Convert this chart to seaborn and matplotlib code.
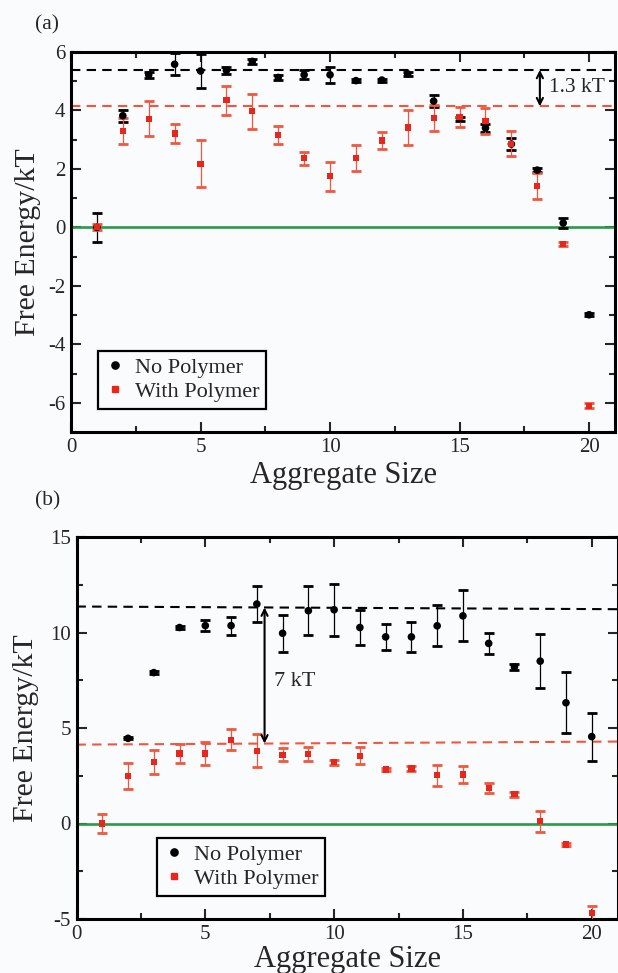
import numpy as np
import pandas as pd
import matplotlib
matplotlib.use("Agg")
import matplotlib.pyplot as plt
import seaborn as sns
from matplotlib.ticker import MultipleLocator
from matplotlib.lines import Line2D

# ---------------- data ----------------
sizes = list(range(1, 21))

# panel (a)
a_no_val = [0.0, 3.82, 5.22, 5.58, 5.35, 5.37, 5.68, 5.13, 5.22, 5.22,
            5.02, 5.04, 5.25, 4.32, 3.72, 3.40, 2.85, 1.96, 0.15, -2.99]
a_no_err = [0.5, 0.2, 0.1, 0.38, 0.57, 0.12, 0.08, 0.1, 0.15, 0.28,
            0.04, 0.05, 0.06, 0.2, 0.07, 0.12, 0.2, 0.06, 0.17, 0.05]
a_with_val = [0.0, 3.29, 3.71, 3.21, 2.18, 4.35, 3.97, 3.16, 2.37, 1.75,
              2.38, 2.97, 3.42, 3.74, 3.78, 3.65, 2.86, 1.41, -0.58, -6.1]
a_with_err = [0.1, 0.45, 0.6, 0.32, 0.8, 0.5, 0.6, 0.31, 0.22, 0.5,
              0.45, 0.3, 0.6, 0.45, 0.34, 0.45, 0.43, 0.45, 0.07, 0.08]

# panel (b)
b_no_sizes = list(range(2, 21))
b_no_val = [4.46, 7.9, 10.26, 10.36, 10.36, 11.49, 9.96, 11.14, 11.19, 10.26,
            9.77, 9.77, 10.35, 10.87, 9.43, 8.2, 8.5, 6.32, 4.55]
b_no_err = [0.06, 0.06, 0.06, 0.27, 0.47, 0.94, 0.97, 1.27, 1.36, 0.94,
            0.68, 0.77, 1.07, 1.33, 0.55, 0.15, 1.43, 1.6, 1.26]
b_with_val = [0.0, 2.49, 3.23, 3.67, 3.67, 4.39, 3.81, 3.6, 3.64, 3.2,
              3.55, 2.83, 2.88, 2.53, 2.56, 1.86, 1.53, 0.12, -1.1, -4.7]
b_with_err = [0.5, 0.66, 0.62, 0.48, 0.59, 0.55, 0.85, 0.33, 0.38, 0.15,
              0.44, 0.08, 0.15, 0.55, 0.44, 0.25, 0.12, 0.55, 0.1, 0.4]

# reference lines (start / end at x = 0 and x = 21)
ref_x = [0, 21]
a_no_ref = [5.39, 5.39]
a_with_ref = [4.14, 4.14]
b_no_ref = [11.36, 11.22]
b_with_ref = [4.13, 4.29]
zero_ref = [0, 0]

# gap annotations
a_gap_x, a_gap_text = 18.1, "1.3 kT"
b_gap_x, b_gap_text = 7.3, "7 kT"

series_names = ["No Polymer", "With Polymer"]
panel_labels = ["(a)", "(b)"]
x_label = "Aggregate Size"
y_label = "Free Energy/kT"

# ---------------- style ----------------
sns.set_style("ticks")
plt.rcParams["font.family"] = ["Liberation Serif", "DejaVu Serif"]
plt.rcParams["axes.unicode_minus"] = False

BG = "#fafbfd"
BLACK = "#000000"
RED = "#e8261c"
RED_LIGHT = "#f0573f"
GREEN = "#2a9a4a"

W, H = 618, 973
fig = plt.figure(figsize=(W / 100, H / 100), dpi=100, facecolor=BG)


def px_axes(l, t, r, b):
    return fig.add_axes([l / W, 1 - b / H, (r - l) / W, (b - t) / H])


def draw_panel(ax, x_no, v_no, e_no, x_w, v_w, e_w, no_ref, with_ref,
               ylim, ymaj, ymin, gap_x, gap_text, text_x, text_y, gap_fs,
               leg_anchor, ylab_x, ax_h_px, xlab_off):
    ax.set_facecolor(BG)
    dash = (0, (4.5, 3))
    ax.plot(ref_x, zero_ref, color=GREEN, lw=1.9, zorder=1)
    ax.plot(ref_x, no_ref, color=BLACK, lw=1.5, ls=dash, zorder=1)
    ax.plot(ref_x, with_ref, color=RED_LIGHT, lw=1.5, ls=dash, zorder=1)

    ax.errorbar(x_no, v_no, yerr=e_no, fmt="none", ecolor=BLACK,
                elinewidth=0.9, capsize=3.8, capthick=2.0, zorder=2)
    ax.errorbar(x_w, v_w, yerr=e_w, fmt="none", ecolor=RED_LIGHT,
                elinewidth=0.9, capsize=3.8, capthick=2.0, zorder=3)

    df = pd.concat([
        pd.DataFrame({"size": x_no, "energy": v_no, "series": series_names[0]}),
        pd.DataFrame({"size": x_w, "energy": v_w, "series": series_names[1]}),
    ], ignore_index=True)
    sns.scatterplot(data=df, x="size", y="energy", hue="series",
                    style="series", size="series",
                    palette={series_names[0]: BLACK, series_names[1]: RED},
                    markers={series_names[0]: "o", series_names[1]: "s"},
                    sizes={series_names[0]: 30, series_names[1]: 20},
                    linewidth=0, legend=False, ax=ax, zorder=4)

    # gap arrow between the two dashed reference lines
    gap_lo = float(np.interp(gap_x, ref_x, with_ref))
    gap_hi = float(np.interp(gap_x, ref_x, no_ref))
    ax.annotate("", xy=(gap_x, gap_hi), xytext=(gap_x, gap_lo),
                arrowprops=dict(arrowstyle="<->", color=BLACK, lw=1.5,
                                shrinkA=0, shrinkB=0, mutation_scale=11),
                zorder=5)
    ax.text(text_x, text_y, gap_text, fontsize=gap_fs, va="center", ha="left")

    ax.set_xlim(0, 21)
    ax.set_ylim(*ylim)
    ax.xaxis.set_major_locator(MultipleLocator(5))
    ax.xaxis.set_minor_locator(MultipleLocator(2.5))
    ax.yaxis.set_major_locator(MultipleLocator(ymaj))
    ax.yaxis.set_minor_locator(MultipleLocator(ymin))
    ax.tick_params(which="both", direction="in", top=True, right=True,
                   width=1.5, labelsize=15)
    ax.tick_params(which="major", length=7)
    ax.tick_params(which="minor", length=4)
    ax.tick_params(axis="x", pad=4)
    ax.tick_params(axis="y", pad=4)
    for s in ax.spines.values():
        s.set_linewidth(2.2)
        s.set_color(BLACK)

    ax.set_xlabel(x_label, fontsize=22, va="center")
    ax.xaxis.set_label_coords(0.5, -xlab_off / ax_h_px)
    ax.set_ylabel(y_label, fontsize=21.5, va="center")
    ax.yaxis.set_label_coords(ylab_x, 0.5)

    handles = [
        Line2D([], [], marker="o", ls="none", color=BLACK, markersize=5.2),
        Line2D([], [], marker="s", ls="none", color=RED, markersize=4.3),
    ]
    leg = ax.legend(handles, series_names, loc="upper left",
                    bbox_to_anchor=leg_anchor, borderaxespad=0,
                    frameon=True, fancybox=False, edgecolor=BLACK,
                    framealpha=1, facecolor=BG, fontsize=16,
                    handlelength=0.93, handletextpad=0.44, borderpad=0.3,
                    labelspacing=0.15)
    leg.get_frame().set_linewidth(1.6)
    leg.set_zorder(6)


# panel (a)
axA = px_axes(71, 52, 615, 432)
draw_panel(axA, sizes, a_no_val, a_no_err, sizes, a_with_val, a_with_err,
           a_no_ref, a_with_ref, (-7, 6), 2, 1,
           a_gap_x, a_gap_text, 18.45, 4.77, 15.5,
           ((98 - 71) / 544, (432 - 351) / 380), (28 - 71) / 544, 380, 43)

# panel (b)
axB = px_axes(76.5, 537, 617.5, 919)
draw_panel(axB, b_no_sizes, b_no_val, b_no_err, sizes, b_with_val, b_with_err,
           b_no_ref, b_with_ref, (-5, 15), 5, 2.5,
           b_gap_x, b_gap_text, 7.65, 7.41, 16,
           ((157 - 76.5) / 541, (919 - 838) / 382), (26.5 - 76.5) / 541, 382, 40)

fig.text(47 / W, 1 - 25 / H, panel_labels[0], fontsize=15.5, ha="center", va="center")
fig.text(48 / W, 1 - 501 / H, panel_labels[1], fontsize=15.5, ha="center", va="center")

fig.savefig("out.png", dpi=100, facecolor=BG)
